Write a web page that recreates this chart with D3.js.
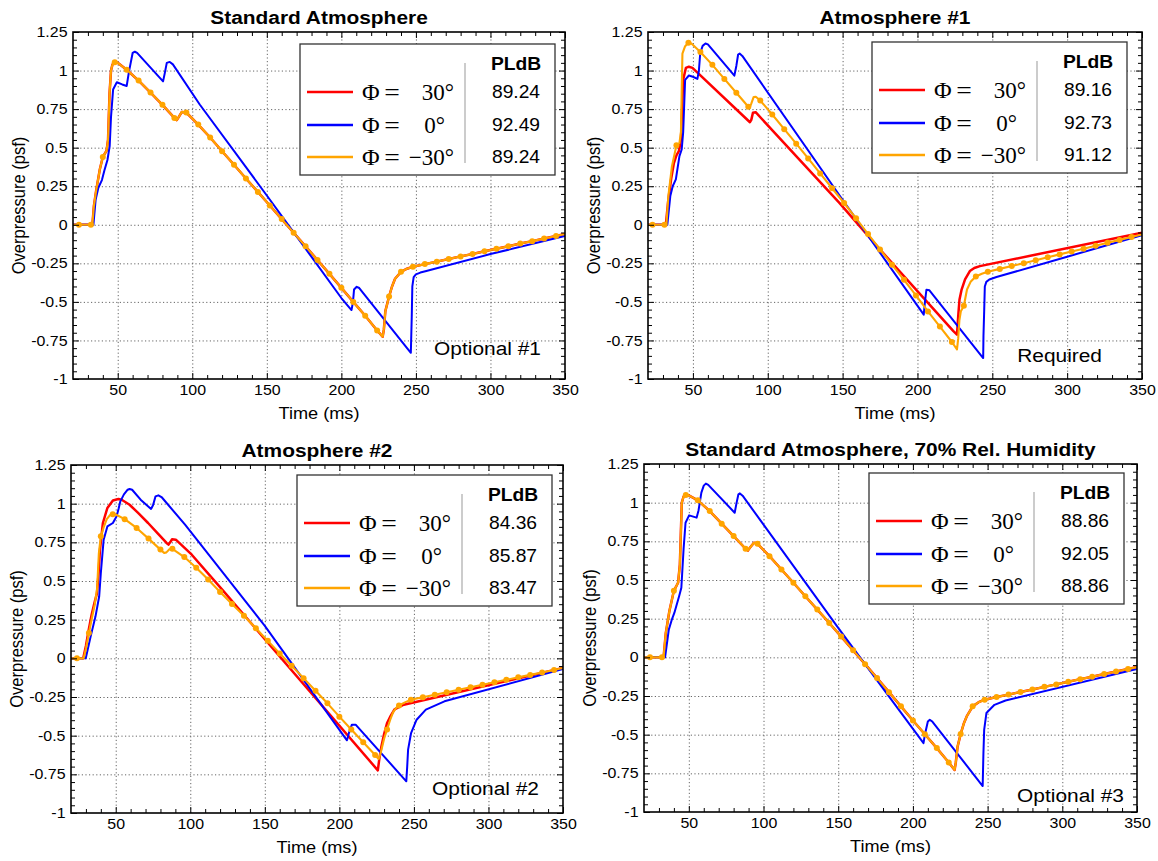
<!DOCTYPE html>
<html>
<head>
<meta charset="utf-8">
<script src="https://cdn.jsdelivr.net/npm/d3@7"></script>
<style>
  body { margin: 0; background: #fff; }
  svg { display: block; }
  text { font-family: "Liberation Sans", Arial, Helvetica, sans-serif; fill: #000; }
  .math { font-family: "Liberation Serif", "Times New Roman", serif; }
</style>
</head>
<body>
<script>
// ---- data ----
const titles = ["Standard Atmosphere", "Atmosphere #1", "Atmosphere #2", "Standard Atmosphere, 70% Rel. Humidity"];
const notes = ["Optional #1", "Required", "Optional #2", "Optional #3"];
const phiLabels = ["30°", "0°", "−30°"];
const pldb = [
  ["89.24", "92.49", "89.24"],
  ["89.16", "92.73", "91.12"],
  ["84.36", "85.87", "83.47"],
  ["88.86", "92.05", "88.86"]
];
const xTicks = [50, 100, 150, 200, 250, 300, 350];
const yTicks = [1.25, 1, 0.75, 0.5, 0.25, 0, -0.25, -0.5, -0.75, -1];
const yTickLabels = ["1.25", "1", "0.75", "0.5", "0.25", "0", "-0.25", "-0.5", "-0.75", "-1"];

// [time ms, overpressure psf, marker?]
const stdOrange = [[20,0],[24,0,1],[32,0,1],[33,0],[34,0.12],[35.5,0.22],[38,0.36],[40,0.44,1],[42.5,0.48],[43.5,0.55],[44.5,0.85],[45.5,1.0],[46.5,1.04],[48,1.054,1],[50,1.05],[56,1.005,1],[64,0.935,1],[72,0.857,1],[80,0.778,1],[88,0.693,1],[89.5,0.678],[91,0.70],[93,0.732],[96,0.728,1],[104,0.65,1],[112,0.566,1],[120,0.477,1],[128,0.389,1],[136,0.30,1],[144,0.213,1],[152,0.125,1],[160,0.037,1],[168,-0.052,1],[176,-0.14,1],[184,-0.229,1],[192,-0.318,1],[200,-0.409,1],[208,-0.5,1],[216,-0.59,1],[224,-0.685,1],[227.7,-0.726],[228.5,-0.68],[229.5,-0.56],[232,-0.465,1],[234,-0.4],[236,-0.35],[240,-0.305,1],[244,-0.285],[248,-0.272,1],[256,-0.255,1],[264,-0.239,1],[272,-0.222,1],[280,-0.205,1],[288,-0.189,1],[296,-0.172,1],[304,-0.156,1],[312,-0.139,1],[320,-0.122,1],[328,-0.106,1],[336,-0.089,1],[344,-0.073,1],[350,-0.06]];
const stdRed = stdOrange; // identical signatures (same PLdB)
const stdBlue = [[20,0],[33.7,0],[35.2,0.164],[37,0.24],[39.4,0.29],[41,0.35],[43.1,0.42],[44.6,0.51],[45.5,0.7],[46.9,0.877],[49.4,0.924],[53,0.91],[56,0.9],[57.6,0.996],[60,1.114],[61.5,1.122],[63,1.115],[80.4,0.93],[81.5,0.98],[82.9,1.05],[84.9,1.056],[87,1.04],[105,0.78],[150,0.19],[170,-0.075],[200,-0.475],[206.8,-0.553],[207.8,-0.5],[208.5,-0.42],[210.3,-0.402],[212,-0.41],[246.6,-0.83],[247.2,-0.6],[247.6,-0.4],[248.5,-0.34],[250,-0.322],[253,-0.31],[257,-0.3],[300,-0.19],[350,-0.073]];

const atm1Red = [[20,0],[31.9,0],[33.6,0.164],[35.5,0.3],[37.3,0.4],[39,0.45],[40.6,0.477],[42,0.55],[43.5,0.94],[45.3,1.017],[47.3,1.025],[49.7,1.017],[88.1,0.665],[89,0.68],[90.1,0.726],[91.9,0.73],[148,0.14],[174,-0.15],[224,-0.69],[226.4,-0.712],[227.4,-0.57],[228.1,-0.484],[229.5,-0.42],[231.8,-0.354],[235,-0.3],[238,-0.28],[241.7,-0.268],[350,-0.052]];
const atm1Blue = [[20,0],[32.9,0],[34.9,0.186],[36.5,0.25],[38.6,0.294],[41,0.445],[42.5,0.488],[43.5,0.6],[44.8,0.94],[47.3,0.968],[50,0.96],[53,0.946],[54,1.0],[54.9,1.114],[56.5,1.16],[58.4,1.175],[60,1.17],[77.7,0.967],[79,1.03],[80.2,1.104],[81.2,1.11],[83,1.095],[148,0.19],[204.2,-0.583],[205,-0.5],[206,-0.421],[208,-0.425],[243.9,-0.864],[244.1,-0.72],[244.6,-0.55],[245,-0.4],[246,-0.37],[248,-0.355],[252.8,-0.339],[300,-0.207],[350,-0.068]];
const atm1Orange = [[20,0],[23,0,1],[31,0,1],[32.3,0],[33.6,0.186],[36,0.38],[39,0.515,1],[41,0.53],[42,0.6],[43,1.11],[44.8,1.158],[47,1.18,1],[49,1.175],[55,1.12,1],[63,1.037,1],[71,0.946,1],[79,0.856,1],[87,0.765,1],[88,0.762],[89,0.785],[90.6,0.829],[92,0.83],[95,0.806,1],[103,0.715,1],[111,0.62,1],[119,0.526,1],[127,0.43,1],[135,0.333,1],[143,0.237,1],[151,0.141,1],[159,0.042,1],[167,-0.06,1],[175,-0.16,1],[183,-0.259,1],[191,-0.357,1],[199,-0.458,1],[207,-0.562,1],[215,-0.66,1],[223,-0.76,1],[226.4,-0.808],[227.2,-0.74],[228,-0.62],[229,-0.56],[231,-0.525,1],[233.1,-0.42],[235.5,-0.37],[239,-0.335,1],[243,-0.318],[247,-0.305,1],[255,-0.286,1],[263,-0.267,1],[271,-0.249,1],[279,-0.23,1],[287,-0.211,1],[295,-0.192,1],[303,-0.173,1],[311,-0.155,1],[319,-0.136,1],[327,-0.117,1],[335,-0.098,1],[343,-0.079,1],[350,-0.063]];

const atm2Red = [[20,0],[28.2,0],[30,0.08],[31.9,0.185],[33.8,0.28],[35.7,0.358],[37.4,0.42],[38.5,0.55],[39.4,0.7],[41.4,0.875],[44.4,0.972],[48.1,1.02],[51.8,1.03],[54,1.025],[59.3,0.993],[65,0.94],[71.7,0.875],[78,0.81],[84.1,0.746],[85.4,0.735],[86.5,0.75],[87.8,0.77],[90.3,0.767],[101,0.67],[121.4,0.444],[225.8,-0.724],[226.8,-0.65],[228.2,-0.57],[230,-0.49],[232,-0.418],[234.5,-0.37],[237,-0.33],[243.2,-0.3],[350,-0.0625]];
const atm2Blue = [[20,0],[29.9,0],[31.5,0.07],[33.2,0.142],[36.4,0.27],[38.9,0.4],[40,0.55],[41.9,0.767],[44.4,0.853],[48.1,0.875],[50.6,0.918],[52,0.97],[53.1,1.015],[55.5,1.06],[58,1.09],[59.3,1.095],[61,1.09],[66.7,1.026],[73.7,0.966],[75,0.99],[76.7,1.047],[78.6,1.054],[81,1.04],[96.5,0.864],[150,0.21],[205.1,-0.53],[206.5,-0.48],[208.4,-0.429],[210.9,-0.429],[244.9,-0.795],[245.5,-0.7],[246.1,-0.59],[248.1,-0.483],[251.8,-0.397],[258,-0.332],[270.5,-0.278],[350,-0.069]];
const atm2Orange = [[20,0],[24,0,1],[28.5,0],[30,0.06],[32,0.164,1],[34,0.26],[36,0.35],[37.5,0.45],[38.7,0.68],[40,0.789,1],[42,0.85],[44,0.9],[46,0.925],[48,0.932,1],[50,0.93],[56,0.9,1],[64,0.843,1],[72,0.774,1],[80,0.703,1],[82.5,0.681],[84,0.685],[86,0.705],[88,0.708,1],[96,0.655,1],[104,0.586,1],[112,0.509,1],[120,0.429,1],[128,0.352,1],[136,0.275,1],[144,0.195,1],[152,0.113,1],[160,0.032,1],[168,-0.048,1],[176,-0.128,1],[184,-0.209,1],[192,-0.291,1],[200,-0.377,1],[208,-0.46,1],[216,-0.543,1],[224,-0.625,1],[226.3,-0.651],[227.5,-0.62],[228.5,-0.58],[230,-0.52],[232,-0.46,1],[234,-0.4],[236,-0.35],[238,-0.322],[240,-0.305,1],[244,-0.285],[248,-0.267,1],[256,-0.251,1],[264,-0.235,1],[272,-0.219,1],[280,-0.203,1],[288,-0.187,1],[296,-0.171,1],[304,-0.155,1],[312,-0.139,1],[320,-0.123,1],[328,-0.107,1],[336,-0.091,1],[344,-0.075,1],[350,-0.0625]];

const humOrange = [[20,0],[24,0,1],[32,0,1],[33.1,0],[34.6,0.158],[37,0.3],[40,0.43,1],[42.8,0.482],[44,0.6],[45.3,1.0],[46.5,1.04],[48,1.05,1],[50,1.047],[56,1.015,1],[64,0.946,1],[72,0.864,1],[80,0.784,1],[88,0.702,1],[89.5,0.69],[91,0.71],[93.6,0.741],[96,0.734,1],[104,0.654,1],[112,0.568,1],[120,0.482,1],[128,0.395,1],[136,0.309,1],[144,0.222,1],[152,0.134,1],[160,0.045,1],[168,-0.044,1],[176,-0.134,1],[184,-0.225,1],[192,-0.317,1],[200,-0.408,1],[208,-0.497,1],[216,-0.587,1],[224,-0.68,1],[227.9,-0.728],[228.7,-0.68],[229.9,-0.577],[232,-0.495,1],[234,-0.43],[236,-0.382],[240,-0.317,1],[244,-0.29],[248,-0.274,1],[256,-0.257,1],[264,-0.241,1],[272,-0.224,1],[280,-0.208,1],[288,-0.191,1],[296,-0.175,1],[304,-0.158,1],[312,-0.141,1],[320,-0.125,1],[328,-0.108,1],[336,-0.092,1],[344,-0.075,1],[350,-0.063]];
const humRed = humOrange; // identical signatures (same PLdB)
const humBlue = [[20,0],[34.1,0],[36.6,0.179],[38.5,0.24],[40.3,0.287],[43.5,0.395],[45,0.45],[46.5,0.7],[47.8,0.87],[50.2,0.918],[55.2,0.903],[56.5,0.95],[58.4,1.065],[60,1.11],[61.4,1.123],[63,1.115],[80.7,0.935],[82,1.0],[83.2,1.054],[84.2,1.06],[86,1.045],[150,0.19],[207.1,-0.555],[208,-0.5],[210,-0.415],[211.3,-0.404],[213,-0.415],[246.7,-0.832],[247.2,-0.62],[247.7,-0.469],[249.2,-0.36],[254.6,-0.307],[262,-0.279],[350,-0.076]];

// ---- layout ----
const W = 1158, H = 861, SX = 1.1;
const colors = ["#ff0000", "#0000ff", "#ffa500"];
const widths = [2.5, 2.0, 2.1];
const layout = [
  { plot: [73, 565, 32, 379],  legend: [300, 44],  note: [541, 355] },
  { plot: [648, 1142, 32, 379], legend: [872, 42],  note: [1102, 362] },
  { plot: [71, 563, 465, 813], legend: [297, 475], note: [539, 795] },
  { plot: [644, 1137, 464, 812], legend: [869, 473], note: [1124, 802] }
];
const panelSeries = [
  [stdRed, stdBlue, stdOrange],
  [atm1Red, atm1Blue, atm1Orange],
  [atm2Red, atm2Blue, atm2Orange],
  [humRed, humBlue, humOrange]
];

const svg = d3.select("body").append("svg")
  .attr("width", W).attr("height", H)
  .attr("viewBox", `0 0 ${W} ${H}`);

function label(g, x, y, str, size, opts = {}) {
  return g.append("text")
    .attr("transform", `translate(${x},${y}) scale(${opts.sx || SX},1)` + (opts.rotate ? " rotate(-90)" : ""))
    .attr("text-anchor", opts.anchor || "start")
    .attr("class", opts.cls || null)
    .style("font-size", size + "px")
    .style("font-weight", opts.bold ? "bold" : null)
    .text(str);
}

layout.forEach((L, i) => {
  const [x0, x1, y0, y1] = L.plot;
  const g = svg.append("g");

  const x = d3.scaleLinear().domain([20, 350]).range([x0, x1]);
  const y = d3.scaleLinear().domain([-1, 1.25]).range([y1, y0]);

  // dotted grid
  g.append("g").attr("transform", `translate(0,${y1})`)
    .call(d3.axisBottom(x).tickValues(xTicks.filter(v => v < 350)).tickSize(-(y1 - y0)).tickFormat(""))
    .call(a => a.select(".domain").remove());
  g.append("g").attr("transform", `translate(${x0},0)`)
    .call(d3.axisLeft(y).tickValues(yTicks.filter(v => v > -1 && v < 1.25)).tickSize(-(x1 - x0)).tickFormat(""))
    .call(a => a.select(".domain").remove());
  g.selectAll(".tick line").attr("stroke", "#666").attr("stroke-width", 1).attr("stroke-dasharray", "1.2,2.4");

  // series
  const clipId = "clip" + i;
  svg.append("clipPath").attr("id", clipId).append("rect")
    .attr("x", x0).attr("y", y0).attr("width", x1 - x0).attr("height", y1 - y0);
  const line = d3.line().x(d => x(d[0])).y(d => y(d[1]));
  const lines = g.append("g").attr("clip-path", `url(#${clipId})`);
  panelSeries[i].forEach((s, k) => {
    lines.append("path").datum(s)
      .attr("fill", "none").attr("stroke", colors[k]).attr("stroke-width", widths[k])
      .attr("stroke-linejoin", "round").attr("d", line);
  });
  lines.selectAll("circle").data(panelSeries[i][2].filter(d => d[2]))
    .join("circle")
    .attr("cx", d => x(d[0])).attr("cy", d => y(d[1])).attr("r", 3)
    .attr("fill", colors[2]);

  // ticks on all four sides (inward)
  const minorX = d3.range(30, 350, 10).filter(v => v % 50 !== 0);
  const minorY = d3.range(-0.95, 1.25, 0.05).filter(v => Math.abs(v * 4 - Math.round(v * 4)) > 1e-6);
  const axes = g.append("g");
  const bottom = axes.append("g").attr("transform", `translate(0,${y1})`)
    .call(d3.axisBottom(x).tickValues(xTicks).tickSize(-6).tickPadding(6).tickFormat(d3.format("d")));
  axes.append("g").attr("transform", `translate(0,${y1})`).call(d3.axisBottom(x).tickValues(minorX).tickSize(-4).tickFormat(""));
  axes.append("g").attr("transform", `translate(0,${y0})`).call(d3.axisTop(x).tickValues(xTicks).tickSize(-6).tickFormat(""));
  axes.append("g").attr("transform", `translate(0,${y0})`).call(d3.axisTop(x).tickValues(minorX).tickSize(-4).tickFormat(""));
  const left = axes.append("g").attr("transform", `translate(${x0},0)`)
    .call(d3.axisLeft(y).tickValues(yTicks).tickSize(-6).tickPadding(5).tickFormat((d, j) => yTickLabels[j]));
  axes.append("g").attr("transform", `translate(${x0},0)`).call(d3.axisLeft(y).tickValues(minorY).tickSize(-4).tickFormat(""));
  axes.append("g").attr("transform", `translate(${x1},0)`).call(d3.axisRight(y).tickValues(yTicks).tickSize(-6).tickFormat(""));
  axes.append("g").attr("transform", `translate(${x1},0)`).call(d3.axisRight(y).tickValues(minorY).tickSize(-4).tickFormat(""));
  axes.selectAll(".domain").remove();
  axes.selectAll(".tick line").attr("stroke", "#000").attr("stroke-width", 1);
  bottom.selectAll("text").style("font-size", "14.5px").attr("transform", `scale(${SX},1)`);
  left.selectAll("text").style("font-size", "14.5px").attr("transform", `scale(${SX},1)`);

  // frame
  g.append("rect").attr("x", x0).attr("y", y0).attr("width", x1 - x0).attr("height", y1 - y0)
    .attr("fill", "none").attr("stroke", "#000").attr("stroke-width", 1.6);

  // titles
  const cx = (x0 + x1) / 2;
  label(g, cx, y0 - 8.5, titles[i], 19, { anchor: "middle", bold: true });
  label(g, cx, y1 + 40, "Time (ms)", 16.5, { anchor: "middle" });
  label(g, x0 - 48, (y0 + y1) / 2, "Overpressure (psf)", 16.5, { anchor: "middle", rotate: true });

  // annotation
  label(g, L.note[0], L.note[1], notes[i], 19, { anchor: "end" });

  // legend
  const [lx, ly] = L.legend;
  const lg = g.append("g").attr("transform", `translate(${lx},${ly})`);
  lg.append("rect").attr("width", 255).attr("height", 131)
    .attr("fill", "#fff").attr("stroke", "#333").attr("stroke-width", 1.3);
  lg.append("line").attr("x1", 165).attr("x2", 165).attr("y1", 19).attr("y2", 119)
    .attr("stroke", "#bbb").attr("stroke-width", 1.5);
  label(lg, 216, 25.5, "PLdB", 17.5, { anchor: "middle", bold: true });
  const rows = [48, 81, 113];
  const numRight = [154, 145, 154];
  rows.forEach((ry, k) => {
    lg.append("line").attr("x1", 7).attr("x2", 53).attr("y1", ry).attr("y2", ry)
      .attr("stroke", colors[k]).attr("stroke-width", 2.6);
    label(lg, 62, ry + 8, "Φ", 23, { cls: "math", sx: 1.05 });
    label(lg, 92, ry + 8, "=", 23, { cls: "math", anchor: "middle", sx: 1.2 });
    label(lg, numRight[k], ry + 8, phiLabels[k], 23, { cls: "math", anchor: "end", sx: 1.0 });
    label(lg, 216, ry + 6, pldb[i][k], 17.5, { anchor: "middle" });
  });
});
</script>
</body>
</html>
